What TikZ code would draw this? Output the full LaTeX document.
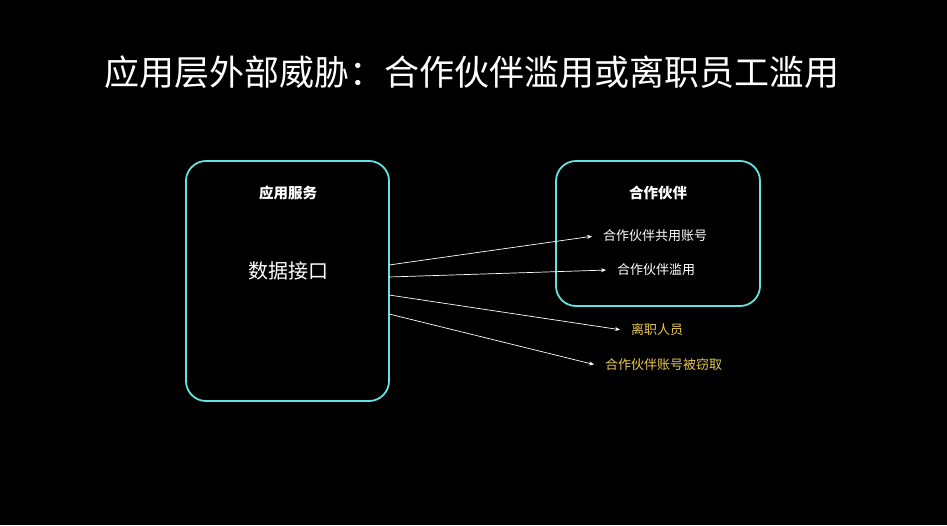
\documentclass[tikz,border=0pt]{standalone}
\usepackage{fontspec}
\usetikzlibrary{arrows.meta}
\setmainfont{Noto Sans CJK SC}
\begin{document}
\begin{tikzpicture}[x=1pt,y=-1pt,
  box/.style={draw={rgb,255:red,100;green,225;blue,225}, line width=1.8pt, rounded corners=20pt},
  lab/.style={text=white, font=\fontsize{13}{15}\selectfont, anchor=west, inner xsep=9pt},
  ylab/.style={text={rgb,255:red,232;green,200;blue,80}, font=\fontsize{13}{15}\selectfont, anchor=west, inner xsep=9pt},
  arr/.style={draw=white, line width=0.7pt, -{Stealth[length=5pt,width=4pt]}}]
\fill[black] (0,0) rectangle (947,525);
\useasboundingbox (0,0) rectangle (947,525);
\node[text=white, font=\fontsize{35}{40}\selectfont] (title) at (472,72) {应用层外部威胁：合作伙伴滥用或离职员工滥用};
\draw[box] (186,161) rectangle (389,401);
\draw[box] (556,161) rectangle (760,306);
\node[text=white, font=\fontsize{14.5}{17}\selectfont\bfseries] (t1) at (288,193) {应用服务};
\node[text=white, font=\fontsize{14.5}{17}\selectfont\bfseries] (t2) at (658,193) {合作伙伴};
\node[text=white, font=\fontsize{20}{24}\selectfont] (api) at (288,271) {数据接口};
\node[lab] (a) at (594,236) {合作伙伴共用账号};
\node[lab] (b) at (608,270) {合作伙伴滥用};
\node[ylab] (c) at (622,330) {离职人员};
\node[ylab] (d) at (596,365) {合作伙伴账号被窃取};
\coordinate (s1) at (389,265);
\coordinate (s2) at (389,277);
\coordinate (s3) at (389,295);
\coordinate (s4) at (389,314);
\draw[arr,shorten >=2pt] (s1) -- (a.west);
\draw[arr,shorten >=2pt] (s2) -- (b.west);
\draw[arr,shorten >=2pt] (s3) -- (c.west);
\draw[arr,shorten >=2pt] (s4) -- (d.west);
\end{tikzpicture}
\end{document}
